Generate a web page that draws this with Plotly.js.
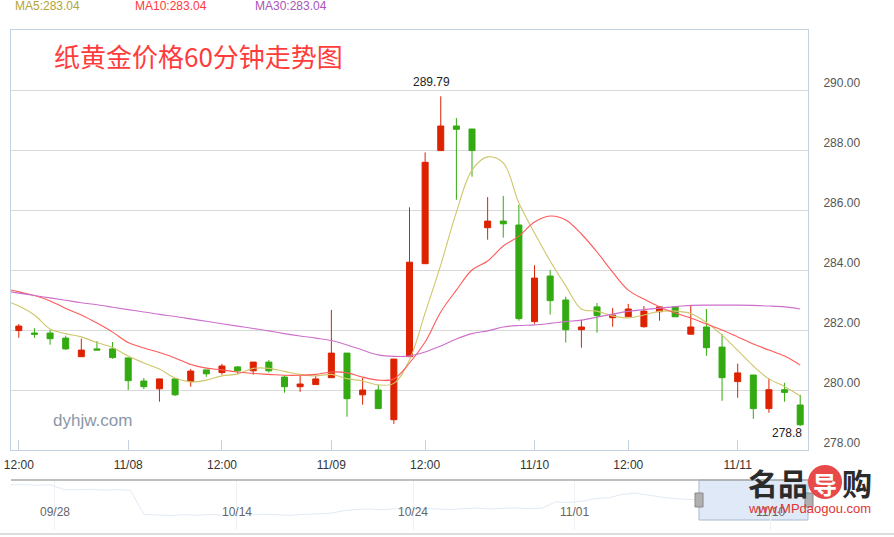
<!DOCTYPE html>
<html><head><meta charset="utf-8">
<script src="https://cdn.plot.ly/plotly-3.0.1.min.js"></script>
<style>html,body{margin:0;padding:0;background:#fff;}#chart{width:894px;height:537px;}</style>
</head><body><div id="chart"></div>
<script>
// ---- candle data (60-minute bars) ----
const opens  = [281.98,281.90,281.90,281.73,281.11,281.37,281.37,281.07,280.30,280.04,280.37,280.28,280.67,280.58,280.77,280.64,280.93,280.43,280.11,280.18,280.41,281.23,279.84,280.00,279.01,281.11,284.21,287.98,288.80,288.70,285.41,285.63,285.50,282.28,283.80,283.00,282.01,282.77,282.41,282.44,282.11,282.61,282.77,281.86,282.10,281.43,280.28,280.50,279.38,280.01,279.50];
const highs  = [282.20,282.06,282.00,281.81,281.71,281.63,281.60,281.07,280.40,280.37,280.37,280.70,280.67,280.87,280.80,280.93,281.00,280.49,280.47,280.48,282.67,281.23,280.40,280.17,281.03,286.09,287.92,289.79,289.07,288.70,286.43,286.47,286.17,284.16,284.00,283.11,282.33,282.90,282.73,282.87,282.80,282.80,282.77,282.83,282.70,281.87,280.88,280.50,280.38,280.24,279.84];
const lows   = [281.74,281.74,281.51,281.34,281.11,281.32,281.04,280.00,280.03,279.61,279.80,280.11,280.44,280.51,280.54,280.51,280.58,279.91,279.94,280.18,280.41,279.11,279.51,279.38,278.87,281.11,284.21,287.98,286.34,287.11,285.01,285.08,282.31,282.21,282.51,281.58,281.41,281.91,282.11,282.44,282.08,282.31,282.44,281.86,281.14,279.64,279.74,279.04,279.24,279.61,278.80];
const closes = [282.13,281.86,281.71,281.37,281.33,281.33,281.08,280.31,280.11,280.37,279.84,280.63,280.54,280.80,280.64,280.93,280.64,280.11,280.20,280.37,281.23,279.71,280.00,279.38,281.03,284.26,287.59,288.80,288.69,287.98,285.63,285.54,282.38,283.73,282.98,282.01,282.10,282.48,282.50,282.70,282.63,282.77,282.44,282.10,281.41,280.41,280.57,279.38,280.01,279.92,278.84];

// ---- moving averages (first value belongs to the bar before the window) ----
const ma5  = [283.00,282.80,282.50,282.03,281.88,281.77,281.58,281.42,281.13,280.90,280.70,280.40,280.27,280.33,280.47,280.53,280.72,280.72,280.62,280.52,280.47,280.52,280.38,280.30,280.17,280.22,281.00,282.57,284.17,285.93,287.33,287.77,287.57,286.23,285.23,284.30,283.47,282.70,282.63,282.47,282.40,282.50,282.62,282.63,282.55,282.25,281.83,281.32,280.80,280.37,280.12,279.80];
const ma10 = [283.40,283.27,283.15,282.97,282.72,282.50,282.23,281.93,281.58,281.40,281.25,281.07,280.85,280.73,280.67,280.60,280.55,280.52,280.49,280.49,280.52,280.60,280.57,280.43,280.33,280.37,280.90,281.60,282.60,283.33,284.00,284.30,284.80,285.13,285.60,285.80,285.67,285.20,284.60,283.93,283.33,283.03,282.77,282.57,282.40,282.20,282.00,281.77,281.53,281.33,281.13,280.83];
const ma30 = [283.31,283.23,283.15,283.07,282.99,282.91,282.84,282.76,282.68,282.60,282.52,282.45,282.37,282.29,282.21,282.13,282.05,281.97,281.88,281.80,281.73,281.65,281.50,281.33,281.17,281.12,281.13,281.27,281.47,281.70,281.88,281.97,282.10,282.15,282.17,282.22,282.28,282.33,282.43,282.53,282.62,282.68,282.73,282.78,282.82,282.83,282.83,282.83,282.82,282.80,282.77,282.70];

const maNames = ['MA5','MA10','MA30'];
const maLegendValues = [283.04, 283.04, 283.04];

const xTickIdx  = [0,7,13,20,26,33,39,46];
const xTickText = ['12:00','11/08','12:00','11/09','12:00','11/10','12:00','11/11'];
const yTicks    = [278,280,282,284,286,288,290];

// ---- navigator (overview) ----
const navValues = [290.0,290.1,289.9,290.0,288.3,288.2,288.4,288.1,288.3,288.0,279.2,279.0,278.8,279.1,278.9,279.2,279.0,278.7,279.0,279.3,279.1,278.9,279.2,279.4,279.6,280.5,281.0,281.2,280.9,281.3,281.1,281.4,281.2,281.0,281.3,281.5,281.2,281.4,281.6,281.3,281.5,283.8,283.6,284.0,285.0,285.3,286.5,287.0,286.2,285.5,285.0,284.7,284.4,284.8,284.5,284.6,284.2,284.5,284.3,284.6,284.2];
const navTickIdx  = [3.3,17.0,30.3,42.4,57.2];
const navTickText = ['09/28','10/14','10/24','11/01','11/10'];

const titleText = '纸黄金价格60分钟走势图';
const siteText = 'dyhjw.com';

// ---------------------------------------------
const barIdx = closes.map((_, i) => i);
const maIdx = ma5.map((_, i) => i - 1);
const navIdx = navValues.map((_, i) => i);

const maLineColors = ['#cfc66a', '#ff5a5a', '#cc70cc'];
const maTextColors = ['#b4a535', '#ff3a3a', '#a855b8'];
const maSeries = [ma5, ma10, ma30];

const traces = [];
maSeries.forEach((s, k) => {
  traces.push({type:'scatter', mode:'lines', x: maIdx, y: s, xaxis:'x', yaxis:'y',
    line:{color: maLineColors[k], width:1.1, shape:'spline', smoothing:1},
    hoverinfo:'none', showlegend:false});
});
traces.push({type:'candlestick', x: barIdx, open: opens, high: highs, low: lows, close: closes,
  xaxis:'x', yaxis:'y', whiskerwidth:0,
  increasing:{line:{color:'#dd2200', width:1}, fillcolor:'#dd2200'},
  decreasing:{line:{color:'#33aa11', width:1}, fillcolor:'#33aa11'},
  hoverinfo:'none', showlegend:false});
traces.push({type:'scatter', mode:'lines', x: navIdx, y: navValues, xaxis:'x2', yaxis:'y2',
  line:{color:'#e2eaf5', width:1}, hoverinfo:'none', showlegend:false});

const annotations = [];
maNames.forEach((n, k) => {
  annotations.push({xref:'paper', yref:'paper', x:[0.002,0.1527,0.3033][k], y:1.048,
    xanchor:'left', yanchor:'middle', showarrow:false,
    text: n + ':' + maLegendValues[k].toFixed(2), font:{size:12, color: maTextColors[k]}});
});
annotations.push({xref:'paper', yref:'paper', x:0.051, y:0.95, xanchor:'left', yanchor:'middle',
  showarrow:false, text:titleText, font:{size:26, color:'#ff3c3c', family:'Noto Sans CJK SC, sans-serif'}});
annotations.push({xref:'paper', yref:'paper', x:0.0505, y:0.22, xanchor:'left', yanchor:'middle',
  showarrow:false, text:siteText, font:{size:17, color:'#8a97a8'}});
const hiI = highs.indexOf(Math.max(...highs));
annotations.push({xref:'x', yref:'y', x:hiI, y:highs[hiI], xanchor:'center', yanchor:'middle',
  xshift:-9, yshift:14, showarrow:false, text:String(highs[hiI]), font:{size:12, color:'#222'}});
const last = lows.length - 1;
annotations.push({xref:'x', yref:'y', x:last, y:lows[last], xanchor:'right', yanchor:'middle',
  xshift:4, yshift:-7, showarrow:false, text:String(lows[last]), font:{size:12, color:'#222'}});
navTickIdx.forEach((v, k) => {
  annotations.push({xref:'x2', yref:'paper', x:v, y:0.036, xanchor:'center', yanchor:'middle',
    showarrow:false, text:navTickText[k], font:{size:12, color:'#666'}});
});
// site logo
annotations.push({xref:'paper', yref:'paper', x:0.9225, y:0.096, xanchor:'left', yanchor:'middle', showarrow:false,
  text:'<b>名品</b>', font:{size:30, color:'#2b2b2b', family:'Noto Sans CJK SC, sans-serif'}});
annotations.push({xref:'paper', yref:'paper', x:1.0213, y:0.094, xanchor:'center', yanchor:'middle', showarrow:false,
  text:'<b>导</b>', font:{size:24, color:'#ffffff', family:'Noto Sans CJK SC, sans-serif'}});
annotations.push({xref:'paper', yref:'paper', x:1.040, y:0.096, xanchor:'left', yanchor:'middle', showarrow:false,
  text:'<b>购</b>', font:{size:30, color:'#2b2b2b', family:'Noto Sans CJK SC, sans-serif'}});
annotations.push({xref:'paper', yref:'paper', x:0.9225, y:0.044, xanchor:'left', yanchor:'middle', showarrow:false,
  text:'www.MPdaogou.com', font:{size:13, color:'#e03535'}});

const shapes = [
  {type:'line', xref:'paper', yref:'paper', x0:0, x1:1, y0:0.1, y1:0.1, line:{color:'#aaaaaa', width:1.5}},
  {type:'line', xref:'paper', yref:'paper', x0:-0.02, x1:1.12, y0:-0.008, y1:-0.008, line:{color:'#dddddd', width:2}},
  {type:'rect', xref:'paper', yref:'paper', x0:0.8632, x1:1.0, y0:0.02, y1:0.1, layer:'below',
    fillcolor:'#dfe9f7', line:{color:'#a9bad0', width:1}},
  {type:'rect', xref:'paper', yref:'paper', x0:0.8582, x1:0.8683, y0:0.046, y1:0.074,
    fillcolor:'#b0b0b0', line:{color:'#8a8a8a', width:1}},
  {type:'rect', xref:'paper', yref:'paper', x0:0.9962, x1:1.0063, y0:0.046, y1:0.074,
    fillcolor:'#b0b0b0', line:{color:'#8a8a8a', width:1}},
  {type:'circle', xref:'paper', yref:'paper', x0:1.0, x1:1.0427, y0:0.062, y1:0.13,
    fillcolor:'#e84a4a', line:{width:0}}
];

const layout = {
  width:894, height:537,
  margin:{l:11, r:86, t:30, b:7, pad:0},
  paper_bgcolor:'#ffffff', plot_bgcolor:'#ffffff',
  font:{family:'Liberation Sans, Arial, sans-serif', size:12, color:'#333'},
  showlegend:false,
  boxgap:0.45,
  xaxis:{domain:[0,1], anchor:'y', range:[-0.5,50.5], tickvals:xTickIdx, ticktext:xTickText,
    ticks:'inside', ticklen:10, tickcolor:'#c3d1e0', tickwidth:1,
    showline:true, linecolor:'#c3d1e0', linewidth:1, mirror:true,
    showgrid:false, zeroline:false, tickfont:{size:12, color:'#333'}, ticklabelstandoff:4,
    rangeslider:{visible:false}, fixedrange:true},
  yaxis:{domain:[0.16,1], anchor:'x', side:'right', range:[278,292], tickvals:yTicks, tickformat:'.2f',
    showgrid:true, gridcolor:'#d9d9d9', gridwidth:1, zeroline:false,
    showline:true, linecolor:'#c3d1e0', linewidth:1, mirror:true, ticks:'',
    tickfont:{size:12, color:'#555'}, ticklabelstandoff:12, ticklabelshift:-7, fixedrange:true},
  xaxis2:{domain:[0,1], anchor:'y2', range:[0,60], tickvals:navTickIdx, showticklabels:false,
    showgrid:true, gridcolor:'#eef1f5', zeroline:false, showline:false, ticks:'', fixedrange:true},
  yaxis2:{domain:[0,0.1], anchor:'x2', range:[273.5,291.8], visible:false, fixedrange:true},
  annotations: annotations,
  shapes: shapes
};

Plotly.newPlot('chart', traces, layout, {displayModeBar:false, staticPlot:true});
</script>
</body></html>
